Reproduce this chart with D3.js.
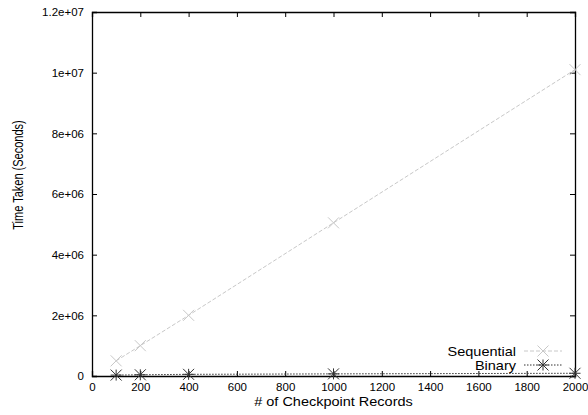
<!DOCTYPE html>
<html>
<head>
<meta charset="utf-8">
<script src="https://cdn.jsdelivr.net/npm/d3@7"></script>
<style>
  body { margin: 0; background: #fff; }
  svg { font-family: "Liberation Sans", Arial, sans-serif; }
</style>
</head>
<body>
<div id="chart"></div>
<script>
var records = [100, 200, 400, 1000, 2000];
var sequential = [500000, 1000000, 2000000, 5050000, 10100000];
var binary = [30000, 40000, 55000, 70000, 90000];
var xTicks = [0, 200, 400, 600, 800, 1000, 1200, 1400, 1600, 1800, 2000];
var yTicks = [0, 2e6, 4e6, 6e6, 8e6, 1e7, 1.2e7];
var yTickLabels = ["0", "2e+06", "4e+06", "6e+06", "8e+06", "1e+07", "1.2e+07"];

var margin = {top: 12, right: 13, bottom: 39, left: 92},
    width = 588 - margin.left - margin.right,
    height = 415 - margin.top - margin.bottom;

var x = d3.scaleLinear().domain([0, 2000]).range([0, width]),
    y = d3.scaleLinear().domain([0, 1.2e7]).range([height, 0]);

var svg = d3.select("#chart").append("svg")
    .attr("width", 588)
    .attr("height", 415)
  .append("g")
    .attr("transform", "translate(" + margin.left + "," + margin.top + ")");

// axes, ticks pointing inward like gnuplot
var xb = svg.append("g").attr("transform", "translate(0," + height + ")")
    .call(d3.axisBottom(x).tickValues(xTicks).tickSize(-5).tickPadding(7).tickFormat(d3.format("d")));
var xt = svg.append("g")
    .call(d3.axisTop(x).tickValues(xTicks).tickSize(-5).tickFormat(""));
var yl = svg.append("g")
    .call(d3.axisLeft(y).tickValues(yTicks).tickSize(-5).tickPadding(8)
      .tickFormat(function(d, i) { return yTickLabels[i]; }));
var yr = svg.append("g").attr("transform", "translate(" + width + ",0)")
    .call(d3.axisRight(y).tickValues(yTicks).tickSize(-5).tickFormat(""));

[xb, xt, yl, yr].forEach(function(g) {
    g.select(".domain").attr("stroke", "#000").attr("stroke-width", 1.3);
    g.selectAll(".tick line").attr("stroke", "#000");
    g.selectAll(".tick text").attr("fill", "#000").style("font-size", "11.5px")
      .style("font-family", "'Liberation Sans', Arial, sans-serif");
});

svg.append("text")
    .attr("transform", "translate(" + (width / 2) + "," + (height + 30) + ") scale(1,0.88)")
    .attr("text-anchor", "middle").style("font-size", "14.5px")
    .text("# of Checkpoint Records");

svg.append("text")
    .attr("transform", "translate(" + (23 - margin.left) + "," + (175 - margin.top) + ") scale(1,0.76) rotate(-90)")
    .attr("text-anchor", "middle").style("font-size", "14.5px")
    .text("Time Taken (Seconds)");

var line = d3.line()
    .x(function(d) { return x(d[0]); })
    .y(function(d) { return y(d[1]); });

var series = [
    {name: "Sequential", values: sequential, color: "#c8c8c8", dash: "4,2", marker: "x"},
    {name: "Binary", values: binary, color: "#333", dash: "1.5,1.5", marker: "star"}
];

function drawMarker(g, cx, cy, type, color) {
    var s = 5.5;
    var p = "M" + (cx - s) + "," + (cy - s) + "L" + (cx + s) + "," + (cy + s) +
            "M" + (cx - s) + "," + (cy + s) + "L" + (cx + s) + "," + (cy - s);
    if (type === "star") {
        p += "M" + (cx - s) + "," + cy + "L" + (cx + s) + "," + cy +
             "M" + cx + "," + (cy - s) + "L" + cx + "," + (cy + s);
    }
    g.append("path").attr("d", p).attr("stroke", color).attr("stroke-width", 1).attr("fill", "none");
}

series.forEach(function(s) {
    var pts = records.map(function(r, i) { return [r, s.values[i]]; });
    svg.append("path").datum(pts)
        .attr("d", line)
        .attr("fill", "none")
        .attr("stroke", s.color)
        .attr("stroke-width", 1)
        .attr("stroke-dasharray", s.dash);
    pts.forEach(function(p) {
        drawMarker(svg, x(p[0]), y(p[1]), s.marker, s.color);
    });
});

// legend
var legend = svg.append("g");
series.forEach(function(s, i) {
    var ly = height - 25 + i * 14;
    legend.append("text")
        .attr("transform", "translate(424," + (ly + 5) + ") scale(1,0.88)")
        .attr("text-anchor", "end").style("font-size", "14.5px")
        .text(s.name);
    legend.append("line")
        .attr("x1", 432).attr("x2", 470).attr("y1", ly).attr("y2", ly)
        .attr("stroke", s.color).attr("stroke-dasharray", s.dash);
    drawMarker(legend, 451, ly, s.marker, s.color);
});
</script>
</body>
</html>
